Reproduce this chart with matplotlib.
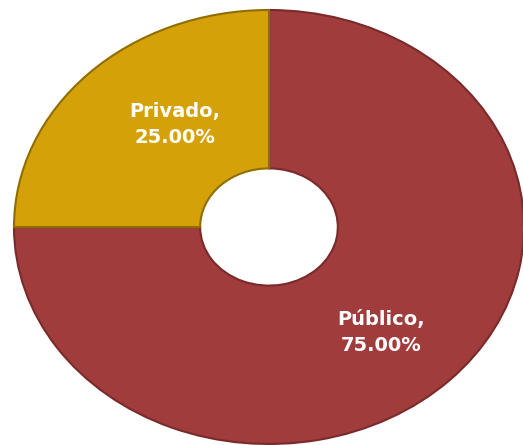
import matplotlib
matplotlib.use("Agg")
import numpy as np
import matplotlib.pyplot as plt

categories = ["Público", "Privado"]
values = [75.0, 25.0]
colors = ["#A03C3C", "#D4A208"]
edge_colors = ["#7A2A2A", "#8F6D00"]
# label placement (fraction of radius, angle in degrees)
label_pos = {"Público": (0.655, -47.7), "Privado": (0.60, 128.0)}

W, H = 523, 445
fig = plt.figure(figsize=(W / 100, H / 100), dpi=100)
ax = fig.add_axes([0, 0, 1, 1])

wedges, _ = ax.pie(values, colors=colors, startangle=90, counterclock=False,
                   radius=1.0, wedgeprops=dict(width=0.73, edgecolor="none"))

for w, c in zip(wedges, edge_colors):
    w.set_edgecolor(c)
    w.set_linewidth(1.5)

for c, v in zip(categories, values):
    d, ang = label_pos[c]
    a = np.radians(ang)
    ax.text(d * np.cos(a), d * np.sin(a), f"{c},\n{v:.2f}%", color="white",
            fontsize=14, fontweight="bold", linespacing=1.45,
            ha="center", va="center")

ax.set_aspect("auto")
cx, cy = 269, 445 - 227
rx, ry = 255, 217
ax.set_xlim(-cx / rx, (W - cx) / rx)
ax.set_ylim(-cy / ry, (H - cy) / ry)
ax.axis("off")

fig.savefig("out.png", dpi=100)
